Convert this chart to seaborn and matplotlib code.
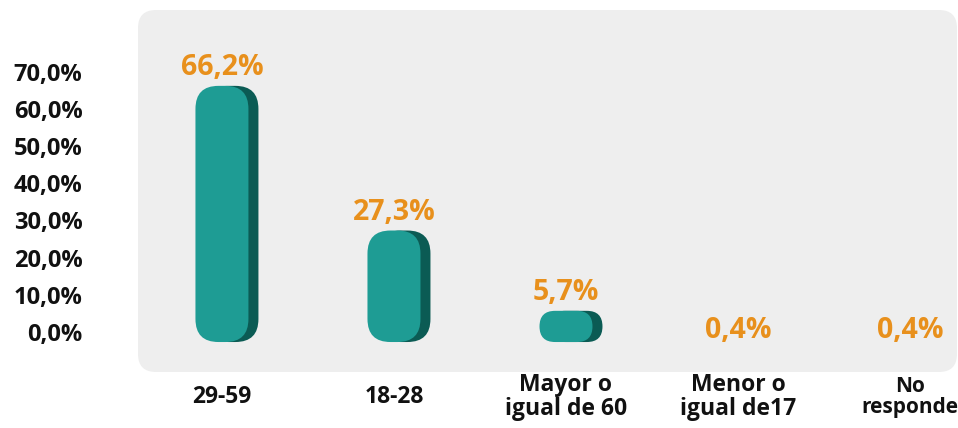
import matplotlib
matplotlib.use("Agg")
import matplotlib.pyplot as plt
import seaborn as sns
import pandas as pd
from matplotlib.patches import FancyBboxPatch
from matplotlib.transforms import IdentityTransform

# datos
grupos = ['29-59', '18-28', 'Mayor o\nigual de 60', 'Menor o\nigual de17', 'No\nresponde']
porcentajes = [66.2, 27.3, 5.7, 0.4, 0.4]
etiquetas = ['66,2%', '27,3%', '5,7%', '0,4%', '0,4%']
ticks = [0, 10, 20, 30, 40, 50, 60, 70]
tick_labels = ['0,0%', '10,0%', '20,0%', '30,0%', '40,0%', '50,0%', '60,0%', '70,0%']

teal = '#1E9C94'
sombra = '#0B5B54'
naranja = '#E8901C'
texto = '#111111'

sns.set_theme(style='white')
plt.rcParams['font.family'] = ['Open Sans', 'DejaVu Sans']

W, H = 958, 428
fig = plt.figure(figsize=(W / 100, H / 100), dpi=100)

# panel gris redondeado de fondo
panel = FancyBboxPatch((138, 56), 819, 362, boxstyle='round,pad=0,rounding_size=18',
                       transform=IdentityTransform(), facecolor='#EEEEEE',
                       edgecolor='none', zorder=-1)
fig.add_artist(panel)

ax = fig.add_axes([138 / W, 56 / H, 819 / W, 362 / H])
ax.patch.set_visible(False)

df = pd.DataFrame({'grupo': grupos, 'pct': porcentajes})
sns.barplot(data=df, x='grupo', y='pct', width=0.308, color=teal, ax=ax)
ax.set_xlim(-0.488, 4.273)
ax.set_ylim(-10.75, 86.6)

# barras tipo cápsula con sombra
for bar, v, lab in zip(list(ax.patches), porcentajes, etiquetas):
    bar.set_visible(False)
    xc = bar.get_x() + bar.get_width() / 2
    if v < 1:
        ax.annotate(lab, (xc, 0), xytext=(0, 1), textcoords='offset points',
                    ha='center', va='center', fontsize=20.5, fontweight='bold', color=naranja)
        continue
    x0, ytop = ax.transData.transform((bar.get_x(), v))
    x1, yzero = ax.transData.transform((bar.get_x() + bar.get_width(), 0))
    ybot = yzero - 10
    w = x1 - x0
    h = ytop - ybot
    r = min(23, h / 2, w / 2)
    for dx, col, z in [(10, sombra, 2), (0, teal, 3)]:
        p = FancyBboxPatch((x0 + dx, ybot), w, h, boxstyle=f'round,pad=0,rounding_size={r}',
                           transform=IdentityTransform(), facecolor=col, edgecolor='none',
                           zorder=z, clip_on=False)
        ax.add_patch(p)
    ax.annotate(lab, (xc, v), xytext=(0, 13), textcoords='offset points',
                ha='center', va='center', fontsize=20.5, fontweight='bold', color=naranja)

ax.set_yticks(ticks)
ax.set_yticklabels(tick_labels, fontsize=17, fontweight='bold', color=texto)
ax.tick_params(axis='y', length=0, pad=40)
ax.tick_params(axis='x', length=0, pad=18)
xlabs = ax.get_xticklabels()
for t in xlabs:
    t.set_fontsize(16.5)
    t.set_fontweight('bold')
    t.set_color(texto)
    t.set_va('center')
    t.set_linespacing(1.05)
# la última etiqueta queda pegada al borde derecho
xlabs[-1].set_fontsize(15)

ax.set_xlabel('')
ax.set_ylabel('')
sns.despine(ax=ax, left=True, bottom=True)
ax.grid(False)

fig.savefig('out.png', dpi=100)
